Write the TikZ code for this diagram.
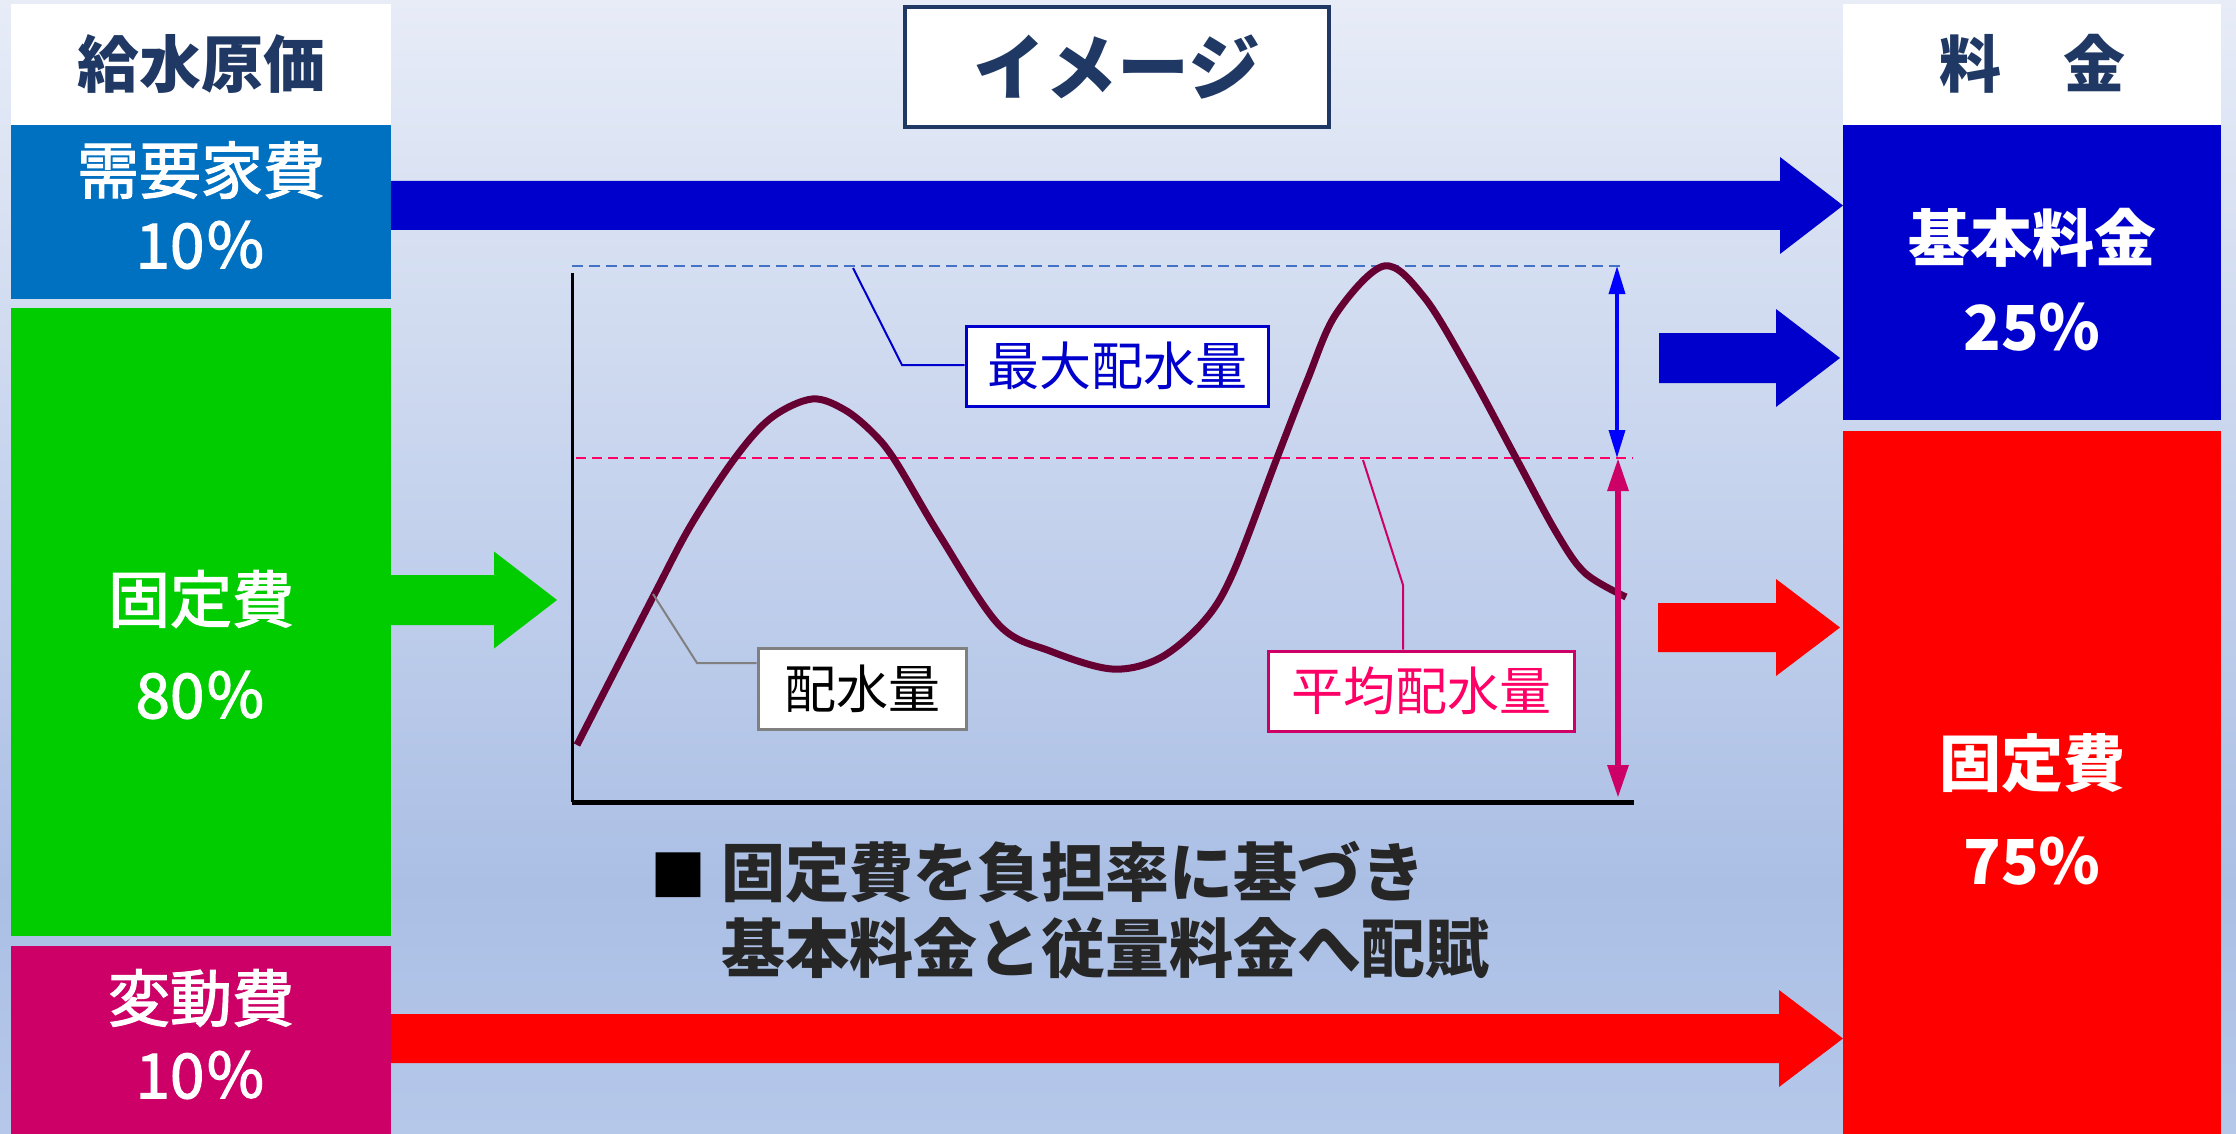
\documentclass[tikz,border=0pt]{standalone}
\usepackage{fontspec}
\setmainfont{Noto Sans CJK JP}
\newfontfamily\medfont{Noto Sans CJK JP}[FakeBold=2]
\usetikzlibrary{arrows.meta}
\definecolor{navy}{HTML}{1F3864}
\definecolor{boxA}{HTML}{0070C0}
\definecolor{boxG}{HTML}{00CC00}
\definecolor{boxM}{HTML}{CC0066}
\definecolor{dblue}{HTML}{0000CC}
\definecolor{pureblue}{HTML}{0000FF}
\definecolor{bred}{HTML}{FF0000}
\definecolor{curvec}{HTML}{660033}
\definecolor{dashblue}{HTML}{4472C4}
\definecolor{dashpink}{HTML}{FF0066}
\definecolor{leadgray}{HTML}{808080}
\definecolor{bgtop}{HTML}{E7ECF7}
\definecolor{bgmid}{HTML}{ABBFE5}
\definecolor{bgbot}{HTML}{B5C8EA}
\pgfdeclareverticalshading{bgsh}{100bp}{color(0bp)=(bgbot); color(25bp)=(bgbot); color(36bp)=(bgmid); color(75bp)=(bgtop); color(100bp)=(bgtop)}
\newcommand\blockarr[7]{% x0 x1 x2 yc shafthalf headhalf color
  \fill[#7] (#1,{#4-#5}) -- (#2,{#4-#5}) -- (#2,{#4-#6}) -- (#3,#4) -- (#2,{#4+#6}) -- (#2,{#4+#5}) -- (#1,{#4+#5}) -- cycle;}
\begin{document}
\begin{tikzpicture}[x=1pt,y=-1pt,
  colbox/.style={rectangle, inner sep=0pt, minimum width=378pt, draw=none},
  big/.style={font=\fontsize{62}{74}\selectfont\medfont, inner sep=0pt},
  bigb/.style={font=\fontsize{62}{74}\selectfont\bfseries, inner sep=0pt},
  lbl/.style={rectangle, fill=white, line width=3pt, inner sep=0pt, font=\fontsize{52}{60}\selectfont},
  leader/.style={line width=2pt},
  dimarr/.style={line width=3pt}]
\useasboundingbox (0,0) rectangle (2236,1134);
\shade[shading=bgsh] (0,0) rectangle (2236,1134);

% left column
\node[colbox, fill=white, minimum width=380pt, minimum height=121pt] (hdrL) at (201,64.5) {};
\node[colbox, fill=boxA, minimum width=380pt, minimum height=174pt] (boxA) at (201,212) {};
\node[colbox, fill=boxG, minimum width=380pt, minimum height=628pt] (boxB) at (201,622) {};
\node[colbox, fill=boxM, minimum width=380pt, minimum height=200pt] (boxC) at (201,1046) {};
% right column
\node[colbox, fill=white, minimum height=121pt] (hdrR) at (2032,64.5) {};
\node[colbox, fill=dblue, minimum height=295pt] (boxD) at (2032,272.5) {};
\node[colbox, fill=bred, minimum height=720pt] (boxE) at (2032,791) {};

% texts in columns
\node[bigb, text=navy] (tL) at (201,64) {給水原価};
\node[big, text=white] (tA1) at (201,170) {需要家費};
\node[big, text=white] (tA2) at (201,245) {10％};
\node[big, text=white] (tB1) at (201,599) {固定費};
\node[big, text=white] (tB2) at (201,695) {80％};
\node[big, text=white] (tC1) at (201,998) {変動費};
\node[big, text=white] (tC2) at (201,1075) {10％};
\node[bigb, text=navy] (tR) at (2032,64) {料　金};
\node[bigb, text=white] (tD1) at (2032,238) {基本料金};
\node[bigb, text=white] (tD2) at (2032,327) {25％};
\node[bigb, text=white] (tE1) at (2032,763) {固定費};
\node[bigb, text=white] (tE2) at (2032,861) {75％};

% title
\node[rectangle, draw=navy, line width=4pt, fill=white, minimum width=424pt, minimum height=120pt,
      font=\fontsize{72}{80}\selectfont\bfseries, text=navy, inner sep=0pt] (title) at (1117,67) {イメージ};

% block arrows
\blockarr{391}{1780}{1843}{205.5}{24.5}{48.5}{dblue}
\blockarr{1659}{1776}{1840}{358}{25}{49}{dblue}
\blockarr{391}{494}{557}{600}{25}{48.5}{boxG}
\blockarr{1658}{1776}{1840}{627.5}{24.5}{48.5}{bred}
\blockarr{391}{1779}{1843}{1038.5}{24.5}{48.5}{bred}

% chart
\coordinate (O) at (572,802);
\coordinate (Ytop) at (572,273);
\coordinate (Xend) at (1634,802);
\draw[dashblue, line width=2pt, dash pattern=on 11pt off 6pt] (572,266) coordinate (mxL) -- (1621,266) coordinate (mxR);
\draw[dashpink, line width=2pt, dash pattern=on 10pt off 6pt] (576,458) coordinate (avL) -- (1633,458) coordinate (avR);
\draw[black, line width=3pt] (Ytop) -- (O);
\draw[black, line width=5pt] (O) -- (Xend);
\draw[curvec, line width=7pt, line join=round] plot[smooth, tension=0.55] coordinates {
 (577,745) (654,595) (691,525) (735,458) (771,418) (812,399) (845,410) (874,434) (896,462)
 (940,536) (999,625) (1050,651) (1112,669) (1160,658) (1204,621) (1233,573) (1277,458)
 (1307,381) (1336,314) (1384,266) (1424,297) (1468,369) (1516,458) (1556,532) (1585,573) (1626,597)};
\coordinate (dA) at (1617,266);
\coordinate (dB) at (1617,458);
\coordinate (dC) at (1618,458);
\coordinate (dD) at (1618,798);
\draw[pureblue, line width=3.5pt, {Triangle[length=28pt,width=16pt]}-{Triangle[length=28pt,width=16pt]}] (dA) -- (dB);
\draw[boxM, line width=6pt, {Triangle[length=33pt,width=20pt]}-{Triangle[length=33pt,width=20pt]}] (dC) -- (dD);

% labels
\node[lbl, draw=dblue, text=dblue, minimum width=302pt, minimum height=80pt] (maxbox) at (1117,366) {最大配水量};
\node[lbl, draw=leadgray, text=black, minimum width=208pt, minimum height=81pt] (pvbox) at (862,688.5) {配水量};
\node[lbl, draw=boxM, text=dashpink, minimum width=306pt, minimum height=80pt] (avgbox) at (1421,691) {平均配水量};
\coordinate (lm1) at (853,268);
\coordinate (lm2) at (902,365);
\draw[leader, dblue] (lm1) -- (lm2) -- (maxbox.west |- lm2);
\coordinate (lp1) at (653,594);
\coordinate (lp2) at (697,663);
\draw[leader, leadgray] (lp1) -- (lp2) -- (pvbox.west |- lp2);
\coordinate (la1) at (1363,460);
\coordinate (la2) at (1403,585);
\draw[leader, boxM] (la1) -- (la2) -- (la2 |- avgbox.north);

% bullet text
\node[font=\fontsize{56}{60}\selectfont, inner sep=0pt] (bul) at (678,875) {■};
\node[font=\fontsize{64}{76}\selectfont\bfseries, text=black!85, align=left, anchor=west, inner sep=0pt] (note) at (721,910)
  {固定費を負担率に基づき\\基本料金と従量料金へ配賦};
\end{tikzpicture}
\end{document}
